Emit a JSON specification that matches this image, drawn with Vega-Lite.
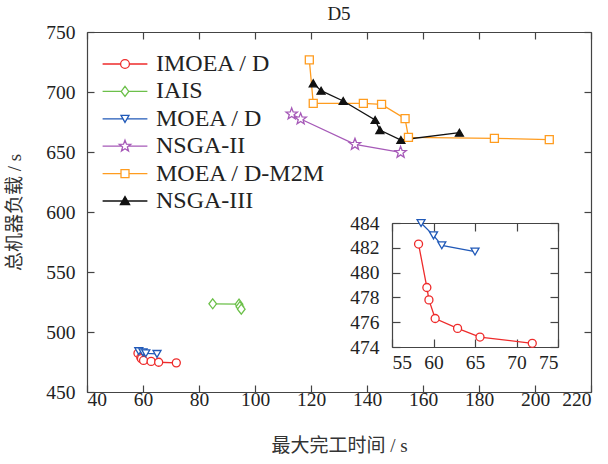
{
  "$schema": "https://vega.github.io/schema/vega-lite/v6.json",
  "width": 504,
  "height": 360,
  "autosize": "none",
  "padding": {"left": 87, "top": 32, "right": 17, "bottom": 72},
  "title": {"text": "D5", "font": "Liberation Serif", "fontSize": 19, "fontWeight": "normal", "color": "#222", "offset": -2},
  "config": {
    "view": {"stroke": null},
    "style": {
      "guide-label": {"font": "Liberation Serif"},
      "guide-title": {"font": "Liberation Serif, Noto Sans CJK SC"},
      "group-title": {"font": "Liberation Serif"}
    },
    "axis": {
      "grid": false,
      "domainColor": "#444",
      "tickColor": "#444",
      "domainWidth": 1.2,
      "tickWidth": 1.2,
      "tickSize": -7,
      "labelFont": "Liberation Serif",
      "labelFontSize": 19.5,
      "labelColor": "#222",
      "titleFont": "Liberation Serif, Noto Sans CJK SC",
      "titleFontSize": 19,
      "titleFontWeight": "normal",
      "titleColor": "#333"
    }
  },
  "datasets": {
    "pts": [
      {"series": "IMOEA / D", "x": 58.2, "y": 482.3},
      {"series": "IMOEA / D", "x": 59.2, "y": 478.8},
      {"series": "IMOEA / D", "x": 59.45, "y": 477.8},
      {"series": "IMOEA / D", "x": 60.2, "y": 476.3},
      {"series": "IMOEA / D", "x": 62.9, "y": 475.5},
      {"series": "IMOEA / D", "x": 65.6, "y": 474.8},
      {"series": "IMOEA / D", "x": 71.9, "y": 474.3},
      {"series": "MOEA / D", "x": 58.5, "y": 484.0},
      {"series": "MOEA / D", "x": 60.0, "y": 483.0},
      {"series": "MOEA / D", "x": 61.0, "y": 482.2},
      {"series": "MOEA / D", "x": 65.0, "y": 481.7},
      {"series": "IAIS", "x": 84.9, "y": 523.5},
      {"series": "IAIS", "x": 94.3, "y": 523.2},
      {"series": "IAIS", "x": 94.6, "y": 521.1},
      {"series": "IAIS", "x": 95.1, "y": 519.0},
      {"series": "NSGA-II", "x": 113.1, "y": 681.7},
      {"series": "NSGA-II", "x": 116.3, "y": 677.5},
      {"series": "NSGA-II", "x": 135.7, "y": 656.4},
      {"series": "NSGA-II", "x": 152.0, "y": 649.7},
      {"series": "MOEA / D-M2M", "x": 119.4, "y": 726.7},
      {"series": "MOEA / D-M2M", "x": 120.8, "y": 690.6},
      {"series": "MOEA / D-M2M", "x": 138.7, "y": 690.6},
      {"series": "MOEA / D-M2M", "x": 145.2, "y": 689.7},
      {"series": "MOEA / D-M2M", "x": 153.6, "y": 677.8},
      {"series": "MOEA / D-M2M", "x": 154.8, "y": 662.2},
      {"series": "MOEA / D-M2M", "x": 185.5, "y": 661.4},
      {"series": "MOEA / D-M2M", "x": 205.1, "y": 660.3},
      {"series": "NSGA-III", "x": 120.8, "y": 707.2},
      {"series": "NSGA-III", "x": 123.6, "y": 701.1},
      {"series": "NSGA-III", "x": 131.5, "y": 692.5},
      {"series": "NSGA-III", "x": 142.9, "y": 676.7},
      {"series": "NSGA-III", "x": 144.6, "y": 668.3},
      {"series": "NSGA-III", "x": 152.1, "y": 660.0},
      {"series": "NSGA-III", "x": 173.0, "y": 666.1}
    ]
  },
  "data": {"name": "pts"},
  "layer": [
    {
      "layer": [
        {
          "mark": {"type": "line", "strokeWidth": 1.3},
          "encoding": {
            "x": {"field": "x", "type": "quantitative", "scale": {"domain": [40, 220], "nice": false, "zero": false},
                  "axis": {"orient": "bottom", "values": [40, 60, 80, 100, 120, 140, 160, 180, 200, 220], "title": "最大完工时间 / s", "labelFont": "Liberation Serif", "titleFont": "Liberation Serif, Noto Sans CJK SC", "labelPadding": 5, "titlePadding": 28}},
            "y": {"field": "y", "type": "quantitative", "scale": {"domain": [450, 750], "nice": false, "zero": false},
                  "axis": {"orient": "left", "values": [450, 500, 550, 600, 650, 700, 750], "title": "总机器负载 / s", "labelFont": "Liberation Serif", "titleFont": "Liberation Serif, Noto Sans CJK SC", "labelPadding": 19, "titlePadding": 21}},
            "stroke": {"field": "series", "type": "nominal", "legend": null,
                       "scale": {"domain": ["IMOEA / D", "IAIS", "MOEA / D", "NSGA-II", "MOEA / D-M2M", "NSGA-III"],
                                 "range": ["#ee2b2b", "#6cc04a", "#2059b8", "#a65ab8", "#ff9c1f", "#111111"]}}
          }
        },
        {
          "mark": {"type": "point", "filled": true, "opacity": 1, "size": 64, "strokeWidth": 1.3},
          "encoding": {
            "x": {"field": "x", "type": "quantitative", "scale": {"domain": [40, 220], "nice": false, "zero": false},
                  "axis": {"orient": "top", "values": [40, 60, 80, 100, 120, 140, 160, 180, 200, 220], "labels": false, "title": null}},
            "y": {"field": "y", "type": "quantitative", "scale": {"domain": [450, 750], "nice": false, "zero": false},
                  "axis": {"orient": "right", "values": [450, 500, 550, 600, 650, 700, 750], "labels": false, "title": null}},
            "stroke": {"field": "series", "type": "nominal", "legend": null,
                       "scale": {"domain": ["IMOEA / D", "IAIS", "MOEA / D", "NSGA-II", "MOEA / D-M2M", "NSGA-III"],
                                 "range": ["#ee2b2b", "#6cc04a", "#2059b8", "#a65ab8", "#ff9c1f", "#111111"]}},
            "fill": {"field": "series", "type": "nominal", "legend": null,
                     "scale": {"domain": ["IMOEA / D", "IAIS", "MOEA / D", "NSGA-II", "MOEA / D-M2M", "NSGA-III"],
                               "range": ["#ffffff", "#ffffff", "#ffffff", "#ffffff", "#ffffff", "#111111"]}},
            "shape": {"field": "series", "type": "nominal", "legend": null,
                      "scale": {"domain": ["IMOEA / D", "IAIS", "MOEA / D", "NSGA-II", "MOEA / D-M2M", "NSGA-III"],
                                "range": ["circle", "M0,-1.25L0.95,0L0,1.25L-0.95,0Z", "triangle-down", "M0,-1.5L0.37,-0.51L1.427,-0.464L0.599,0.195L0.882,1.214L0,0.63L-0.882,1.214L-0.599,0.195L-1.427,-0.464L-0.37,-0.51Z", "square", "triangle-up"]}}
          }
        }
      ],
      "resolve": {"axis": {"x": "independent", "y": "independent"}}
    },
    {
      "transform": [{"filter": {"field": "series", "oneOf": ["IMOEA / D", "MOEA / D"]}}],
      "layer": [
        {
          "mark": {"type": "line", "strokeWidth": 1.3},
          "encoding": {
            "x": {"field": "x", "type": "quantitative", "scale": {"domain": [55, 75], "range": [305, 471], "nice": false, "zero": false},
                  "axis": {"orient": "bottom", "offset": -45, "values": [55, 60, 65, 70, 75], "title": null, "labelFont": "Liberation Serif", "labelPadding": 14, "tickSize": -8}},
            "y": {"field": "y", "type": "quantitative", "scale": {"domain": [474, 484], "range": [315, 191], "nice": false, "zero": false},
                  "axis": {"orient": "left", "offset": -305, "values": [474, 476, 478, 480, 482, 484], "title": null, "labelFont": "Liberation Serif", "labelPadding": 21, "tickSize": -8}},
            "stroke": {"field": "series", "type": "nominal", "legend": null,
                       "scale": {"domain": ["IMOEA / D", "IAIS", "MOEA / D", "NSGA-II", "MOEA / D-M2M", "NSGA-III"],
                                 "range": ["#ee2b2b", "#6cc04a", "#2059b8", "#a65ab8", "#ff9c1f", "#111111"]}}
          }
        },
        {
          "mark": {"type": "point", "filled": true, "opacity": 1, "size": 64, "strokeWidth": 1.3},
          "encoding": {
            "x": {"field": "x", "type": "quantitative", "scale": {"domain": [55, 75], "range": [305, 471], "nice": false, "zero": false},
                  "axis": {"orient": "top", "offset": -191, "values": [55, 60, 65, 70, 75], "labels": false, "title": null, "tickSize": -8}},
            "y": {"field": "y", "type": "quantitative", "scale": {"domain": [474, 484], "range": [315, 191], "nice": false, "zero": false},
                  "axis": {"orient": "right", "offset": -33, "values": [474, 476, 478, 480, 482, 484], "labels": false, "title": null, "tickSize": -8}},
            "stroke": {"field": "series", "type": "nominal", "legend": null,
                       "scale": {"domain": ["IMOEA / D", "IAIS", "MOEA / D", "NSGA-II", "MOEA / D-M2M", "NSGA-III"],
                                 "range": ["#ee2b2b", "#6cc04a", "#2059b8", "#a65ab8", "#ff9c1f", "#111111"]}},
            "fill": {"field": "series", "type": "nominal", "legend": null,
                     "scale": {"domain": ["IMOEA / D", "IAIS", "MOEA / D", "NSGA-II", "MOEA / D-M2M", "NSGA-III"],
                               "range": ["#ffffff", "#ffffff", "#ffffff", "#ffffff", "#ffffff", "#111111"]}},
            "shape": {"field": "series", "type": "nominal", "legend": null,
                      "scale": {"domain": ["IMOEA / D", "IAIS", "MOEA / D", "NSGA-II", "MOEA / D-M2M", "NSGA-III"],
                                "range": ["circle", "M0,-1.25L0.95,0L0,1.25L-0.95,0Z", "triangle-down", "M0,-1.5L0.37,-0.51L1.427,-0.464L0.599,0.195L0.882,1.214L0,0.63L-0.882,1.214L-0.599,0.195L-1.427,-0.464L-0.37,-0.51Z", "square", "triangle-up"]}}
          }
        }
      ],
      "resolve": {"axis": {"x": "independent", "y": "independent"}}
    },
    {
      "mark": {"type": "point", "filled": true, "opacity": 1, "size": 64, "strokeWidth": 1.3, "clip": true},
      "encoding": {
        "x": {"field": "x", "type": "quantitative", "scale": {"domain": [1000, 1001]}, "axis": null},
        "y": {"field": "y", "type": "quantitative", "scale": {"domain": [450, 750]}, "axis": null},
        "stroke": {"field": "series", "type": "nominal",
                   "scale": {"domain": ["IMOEA / D", "IAIS", "MOEA / D", "NSGA-II", "MOEA / D-M2M", "NSGA-III"],
                             "range": ["#ee2b2b", "#6cc04a", "#2059b8", "#a65ab8", "#ff9c1f", "#111111"]},
                   "legend": {"title": null, "orient": "none", "legendX": 26, "legendY": 20, "padding": 0, "labelFont": "Liberation Serif", "labelFontSize": 24, "labelColor": "#222", "labelOffset": 19, "labelLimit": 0, "symbolSize": 64, "symbolStrokeWidth": 1.3, "rowPadding": 3.4}},
        "fill": {"field": "series", "type": "nominal",
                 "scale": {"domain": ["IMOEA / D", "IAIS", "MOEA / D", "NSGA-II", "MOEA / D-M2M", "NSGA-III"],
                           "range": ["#ffffff", "#ffffff", "#ffffff", "#ffffff", "#ffffff", "#111111"]},
                 "legend": {"title": null, "orient": "none", "legendX": 26, "legendY": 20, "padding": 0, "labelFont": "Liberation Serif", "labelFontSize": 24, "labelColor": "#222", "labelOffset": 19, "labelLimit": 0, "symbolSize": 64, "symbolStrokeWidth": 1.3, "rowPadding": 3.4}},
        "shape": {"field": "series", "type": "nominal",
                  "scale": {"domain": ["IMOEA / D", "IAIS", "MOEA / D", "NSGA-II", "MOEA / D-M2M", "NSGA-III"],
                            "range": [
                              "M-5.6,0H-1.1M1.1,0H5.6M-1.1,0A1.1,1.1 0 1,1 1.1,0A1.1,1.1 0 1,1 -1.1,0Z",
                              "M-5.6,0H-0.95M0.95,0H5.6M0,-1.25L0.95,0L0,1.25L-0.95,0Z",
                              "M-5.6,0H-0.51M0.51,0H5.6M-1,-0.85L1,-0.85L0,0.9Z",
                              "M-5.6,0H-0.84M0.84,0H5.6M0,-1.5L0.37,-0.51L1.427,-0.464L0.599,0.195L0.882,1.214L0,0.63L-0.882,1.214L-0.599,0.195L-1.427,-0.464L-0.37,-0.51Z",
                              "M-5.6,0H-1M1,0H5.6M-1,-1H1V1H-1Z",
                              "M-5.6,0H5.6M0,-1.1L1.15,0.9L-1.15,0.9Z"
                            ]},
                  "legend": {"title": null, "orient": "none", "legendX": 26, "legendY": 20, "padding": 0, "labelFont": "Liberation Serif", "labelFontSize": 24, "labelColor": "#222", "labelOffset": 19, "labelLimit": 0, "symbolSize": 64, "symbolStrokeWidth": 1.3, "rowPadding": 3.4}}
      }
    }
  ],
  "resolve": {"scale": {"x": "independent", "y": "independent", "stroke": "independent", "fill": "independent", "shape": "independent"}}
}
